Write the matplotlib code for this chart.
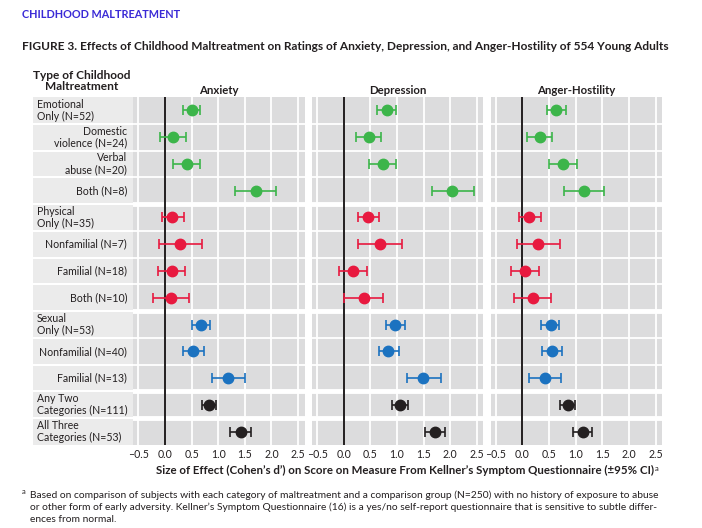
import numpy as np
import matplotlib.pyplot as plt

plt.rcParams['font.family'] = ['Lato', 'DejaVu Sans']

labels = ["Emotional\nOnly (N=52)", "Domestic\nviolence (N=24)", "Verbal\nabuse (N=20)", "Both (N=8)",
          "Physical\nOnly (N=35)", "Nonfamilial (N=7)", "Familial (N=18)", "Both (N=10)",
          "Sexual\nOnly (N=53)", "Nonfamilial (N=40)", "Familial (N=13)",
          "Any Two\nCategories (N=111)", "All Three\nCategories (N=53)"]
is_head = [1, 0, 0, 0, 1, 0, 0, 0, 1, 0, 0, 1, 1]
group = ["emo"] * 4 + ["phys"] * 4 + ["sex"] * 3 + ["two", "three"]
panels = ["Anxiety", "Depression", "Anger-Hostility"]

anx = [0.51, 0.15, 0.41, 1.71, 0.14, 0.29, 0.13, 0.11, 0.68, 0.53, 1.19, 0.83, 1.43]
anx_lo = [0.34, -0.09, 0.16, 1.32, -0.06, -0.12, -0.13, -0.22, 0.50, 0.34, 0.89, 0.69, 1.23]
anx_hi = [0.66, 0.39, 0.66, 2.08, 0.35, 0.69, 0.38, 0.46, 0.85, 0.73, 1.51, 0.96, 1.62]

dep = [0.81, 0.47, 0.74, 2.04, 0.46, 0.68, 0.17, 0.39, 0.97, 0.84, 1.49, 1.06, 1.71]
dep_lo = [0.63, 0.23, 0.48, 1.65, 0.26, 0.27, -0.09, 0.01, 0.80, 0.66, 1.18, 0.91, 1.52]
dep_hi = [0.98, 0.70, 0.99, 2.44, 0.67, 1.09, 0.44, 0.73, 1.16, 1.04, 1.82, 1.21, 1.91]

ang = [0.63, 0.33, 0.76, 1.16, 0.13, 0.29, 0.04, 0.19, 0.53, 0.56, 0.43, 0.85, 1.13]
ang_lo = [0.46, 0.09, 0.49, 0.78, -0.07, -0.10, -0.22, -0.16, 0.35, 0.37, 0.12, 0.71, 0.94]
ang_hi = [0.81, 0.56, 1.02, 1.54, 0.34, 0.70, 0.31, 0.54, 0.69, 0.74, 0.73, 0.99, 1.31]

colors = {"emo": "#3cb54a", "phys": "#e8193f", "sex": "#1b72c0", "two": "#231f20", "three": "#231f20"}

W, H = 702, 528
fig = plt.figure(figsize=(W / 100, H / 100), dpi=100)


def box(x0, y0, x1, y1):
    return [x0 / W, 1 - y1 / H, (x1 - x0) / W, (y1 - y0) / H]


top, bot = 97, 445
n = len(labels)
ybreaks = [4, 8, 11, 12]

# label column
lab = fig.add_axes(box(33, top, 133, bot))
lab.set_xlim(0, 1)
lab.set_ylim(n, 0)
lab.set_facecolor("#ebebeb")
for s in lab.spines.values():
    s.set_visible(False)
lab.set_xticks([])
lab.set_yticks([])
for i in range(1, n):
    lab.axhline(i, color="white", lw=1.5)
for i, (t, h) in enumerate(zip(labels, is_head)):
    if h:
        lab.text(0.04, i + 0.5, t, ha="left", va="center", fontsize=7.6, color="#231f20", linespacing=1.1)
    else:
        lab.text(0.94, i + 0.5, t, ha="right", va="center", fontsize=7.6, color="#231f20", linespacing=1.1)

fig.text(82 / W, 1 - 81 / H, "Type of Childhood\nMaltreatment", ha="center", va="center",
         fontsize=8.6, fontweight="bold", color="#231f20", linespacing=1.0)

data = [(anx, anx_lo, anx_hi), (dep, dep_lo, dep_hi), (ang, ang_lo, ang_hi)]
lefts = [133, 311.7, 490.5]
for k, (name, (m, lo, hi)) in enumerate(zip(panels, data)):
    ax = fig.add_axes(box(lefts[k], top, lefts[k] + 171.5, bot))
    ax.set_facecolor("#dcdcdd")
    ax.set_xlim(-0.6, 2.62)
    ax.set_ylim(n, 0)
    for s in ax.spines.values():
        s.set_visible(False)
    for xv in np.arange(-0.5, 2.51, 0.5):
        ax.axvline(xv, color="white", lw=1.3, zorder=0)
    for i in range(1, n):
        ax.axhline(i, color="white", lw=3.5 if i in ybreaks else 1.3, zorder=0)
    ax.axvline(0, color="#231f20", lw=1.4, zorder=1)
    for i in range(n):
        c = colors[group[i]]
        ax.errorbar(m[i], i + 0.5, xerr=[[m[i] - lo[i]], [hi[i] - m[i]]], fmt="o", color=c,
                    ms=7.5, capsize=3.8, elinewidth=1.2, capthick=1.2, zorder=3)
    ax.set_yticks([])
    ax.set_xticks(np.arange(-0.5, 2.51, 0.5))
    ax.set_xticklabels(["\u20130.5", "0.0", "0.5", "1.0", "1.5", "2.0", "2.5"])
    ax.tick_params(axis="x", length=0, pad=3, labelsize=7.6, labelcolor="#231f20")
    ax.set_title(name, fontsize=8.2, fontweight="bold", color="#231f20", pad=2)

fig.text(22 / W, 1 - 14 / H, "CHILDHOOD MALTREATMENT", ha="left", va="center",
         fontsize=7.8, fontweight="bold", color="#3a2ad6")
fig.text(22 / W, 1 - 47 / H,
         "FIGURE 3. Effects of Childhood Maltreatment on Ratings of Anxiety, Depression, and Anger-Hostility of 554 Young Adults",
         ha="left", va="center", fontsize=8.55, fontweight="bold", color="#231f20")

xl = fig.text(405 / W, 1 - 470 / H,
              "Size of Effect (Cohen\u2019s d\u2019) on Score on Measure From Kellner\u2019s Symptom Questionnaire (\u00b195% CI)",
              ha="center", va="center", fontsize=8.3, fontweight="bold", color="#231f20")
fig.canvas.draw()
bb = xl.get_window_extent()
fig.text((bb.x1 + 1) / W, (bb.y1 - 4) / H, "a", ha="left", va="center", fontsize=5.5, color="#231f20")

fig.text(22 / W, 1 - 491 / H, "a", ha="left", va="center", fontsize=5.5, color="#231f20")
fig.text(30 / W, 1 - 507 / H,
         "Based on comparison of subjects with each category of maltreatment and a comparison group (N=250) with no history of exposure to abuse\n"
         "or other form of early adversity. Kellner\u2019s Symptom Questionnaire (16) is a yes/no self-report questionnaire that is sensitive to subtle differ-\n"
         "ences from normal.",
         ha="left", va="center", fontsize=7.4, color="#231f20", linespacing=1.4)

fig.savefig("out.png", dpi=100)
